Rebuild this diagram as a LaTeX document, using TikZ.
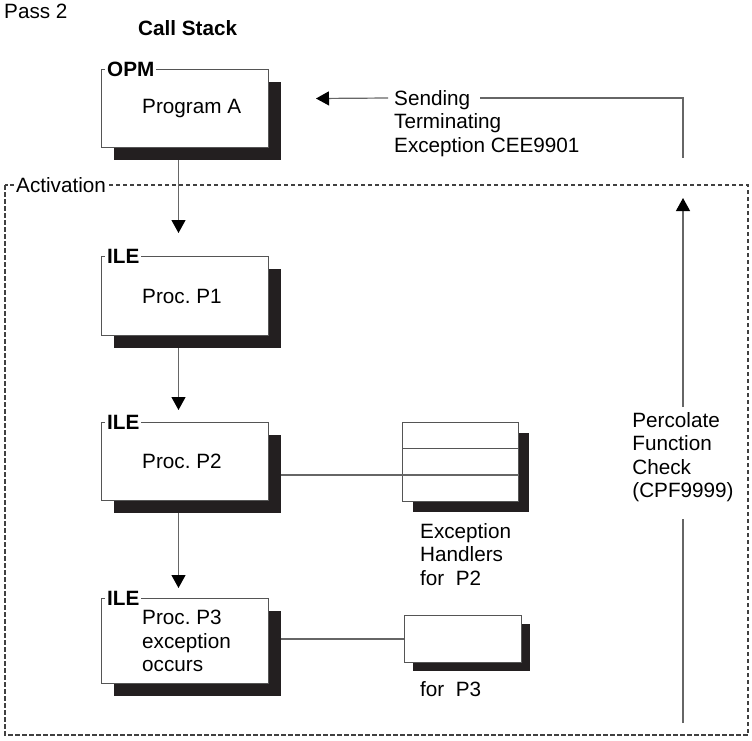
\documentclass[tikz,border=0pt]{standalone}
\usepackage{fontspec}
\setmainfont{Liberation Sans}
\usetikzlibrary{arrows.meta, positioning, shadows}
\definecolor{shadowgray}{HTML}{231F20}
\definecolor{edgegray}{HTML}{555555}
\definecolor{linkgray}{HTML}{666666}
\newcommand{\diagfont}{\fontsize{20.7}{23.5}\selectfont\frenchspacing}
\tikzset{
    procbox/.style={draw=edgegray, fill=white, line width=1pt, minimum width=167pt, anchor=north west, inner sep=0pt,
        general shadow={fill=shadowgray, shadow xshift=12pt, shadow yshift=-12pt}},
    handlerbox/.style={draw=edgegray, fill=white, line width=1pt, anchor=north west, inner sep=0pt,
        general shadow={fill=shadowgray, shadow xshift=#1, shadow yshift=-#1}},
    tag/.style={fill=white, inner sep=2pt, font=\diagfont\bfseries, anchor=west},
    note/.style={inner sep=0pt, align=left, font=\diagfont},
    link/.style={linkgray, line width=1.2pt},
    flow/.style={link, -{Triangle[length=13pt, width=14pt, color=black]}},
    frame/.style={black!75, line width=1.1pt, dash pattern=on 4.5pt off 2.5pt}
}

\begin{document}
\begin{tikzpicture}[x=1pt, y=-1pt]
    \useasboundingbox (0,0) rectangle (752,740);
    \node[note, anchor=base west] (pass) at (4,18) {Pass 2};
    \node[note, anchor=base west, font=\diagfont\bfseries] (stack) at (138,35) {Call Stack};
    % Activation frame
    \draw[frame] (5,185) rectangle (748,735);
    \node[tag, font=\diagfont] (act) at (14,185) {Activation};
    % Call stack entries
    \node[procbox, minimum height=78pt] (opm) at (101,69) {};
    \node[tag, right=4pt of opm.north west] (opmtag) {OPM};
    \node[note, right=41pt of opm.west] (opmtxt) {Program A};

    \node[procbox, minimum height=79pt] (p1) at (101,256) {};
    \node[tag, right=4pt of p1.north west] (p1tag) {ILE};
    \node[note, right=41pt of p1.west] (p1txt) {Proc. P1};

    \node[procbox, minimum height=78pt] (p2) at (101,422) {};
    \node[tag, right=4pt of p2.north west] (p2tag) {ILE};
    \node[note, right=41pt of p2.west] (p2txt) {Proc. P2};

    \node[procbox, minimum height=85pt] (p3) at (101,598) {};
    \node[tag, right=4pt of p3.north west] (p3tag) {ILE};
    \node[note, right=41pt of p3.west] (p3txt) {Proc. P3\\exception\\occurs};

    \draw[flow] ([xshift=-6.5pt, yshift=-12pt]opm.south) -- ([xshift=-6.5pt, yshift=23pt]p1.north);
    \draw[flow] ([xshift=-6.5pt, yshift=-12pt]p1.south) -- ([xshift=-6.5pt, yshift=12pt]p2.north);
    \draw[flow] ([xshift=-6.5pt, yshift=-12pt]p2.south) -- ([xshift=-6.5pt, yshift=10pt]p3.north);
    % Exception handlers
    \node[handlerbox=10.5pt, minimum width=116pt, minimum height=79pt] (h2) at (402,422) {};
    \draw[edgegray, line width=1pt] ([yshift=-26pt]h2.north west) -- ([yshift=-26pt]h2.north east);
    \coordinate (r2) at ([yshift=-53pt]h2.north west);
    \draw[link] ([xshift=12pt]p2.east |- r2) -- (r2 -| h2.east);
    \node[note, anchor=north west] (h2txt) at (420,523) {Exception\\Handlers\\for\ \ P2};

    \node[handlerbox=8pt, minimum width=117pt, minimum height=47pt] (h3) at (404,615) {};
    \draw[link] ([xshift=12pt]p3.east |- h3.west) -- (h3.west);
    \node[note, anchor=north west] (h3txt) at (420,681) {for\ \ P3};
    % Percolation and termination
    \node[note, anchor=north] (perc) at (683,412) {Percolate\\Function\\Check\\(CPF9999)};
    \coordinate (pbot) at (683,723);
    \coordinate (ptop) at (683,198);
    \draw[link] (pbot) -- ([yshift=-17pt]perc.south);
    \draw[flow] ([yshift=5pt]perc.north) -- (ptop);

    \node[note, anchor=north west] (send) at (394,90) {Sending\\Terminating\\Exception CEE9901};
    \coordinate (tbot) at (683,158);
    \draw[link] (tbot) |- (480,98);
    \draw[flow] (388,98) -- ([xshift=47pt, yshift=10pt]opm.east);
\end{tikzpicture}
\end{document}
